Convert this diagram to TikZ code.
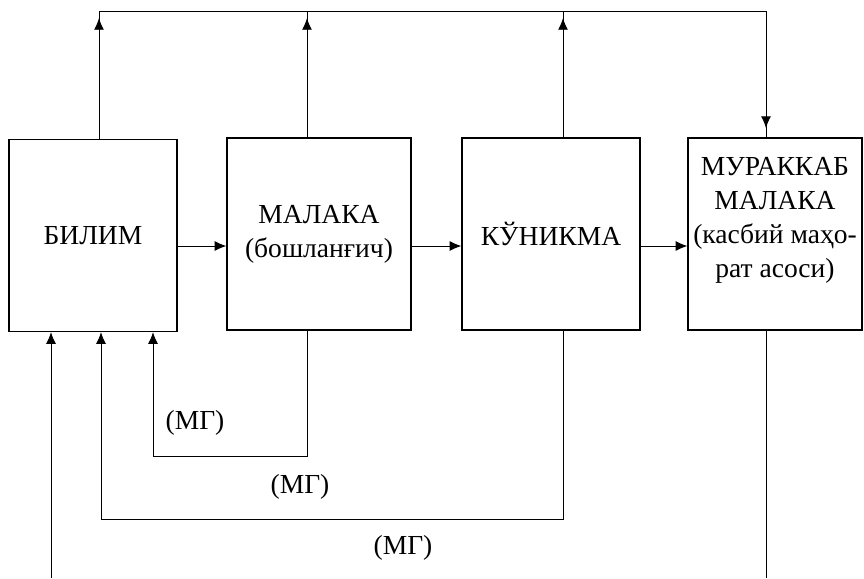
\documentclass[tikz,border=0pt]{standalone}
\usepackage{fontspec}
\setmainfont{Liberation Serif}
\newfontfamily\boxfont{Liberation Serif}
\usetikzlibrary{arrows.meta,decorations.markings}

\begin{document}
\begin{tikzpicture}[x=0.03cm,y=-0.03cm,line width=0.8pt,>={Latex[length=10pt,width=8.5pt]},
	boxnode/.style={rectangle,draw,line width=1pt,align=center,inner sep=0pt,minimum height=5.76cm,font=\boxfont\fontsize{23.5}{29}\selectfont},
	labelnode/.style={rectangle,inner sep=1pt,font=\boxfont\fontsize{23.5}{29}\selectfont},
	midtip/.style={postaction={decorate},decoration={markings,mark=at position #1 with {\arrow{Latex[length=10pt,width=8.5pt]}}}}]
	
	\useasboundingbox (0,0) rectangle (864,578);
	
	\node [boxnode,minimum width=5.04cm] (bilim) at (93,235.5) {БИЛИМ};
	\node [boxnode,minimum width=5.52cm] (malaka) at (319,234) {МАЛАКА\\(бошланғич)};
	\node [boxnode,minimum width=5.34cm] (kunikma) at (551,234) {КЎНИКМА};
	\node [boxnode,minimum width=5.22cm] (murakkab) at (775,234) {МУРАККАБ\\МАЛАКА\\(касбий маҳо-\\рат асоси)\\\mbox{}};
	
	\coordinate (top1) at (99,11);
	\coordinate (top2) at (307,11);
	\coordinate (top3) at (563,11);
	\coordinate (top4) at (766,11);
	\coordinate (flow) at (0,246);
	\coordinate (fb1a) at (307,456);
	\coordinate (fb1b) at (153,456);
	\coordinate (fb2a) at (563,519);
	\coordinate (fb2b) at (101,519);
	\coordinate (fb3) at (51,578);
	\coordinate (out) at (766,578);
	
	\node [labelnode] (mg1) at (195,423) {(МГ)};
	\node [labelnode] (mg2) at (300,487) {(МГ)};
	\node [labelnode] (mg3) at (403,548) {(МГ)};
	
	% upper line
	\draw[midtip=-6pt] (bilim.north -| top1) -- (top1);
	\draw[midtip=-6pt] (malaka.north -| top2) -- (top2);
	\draw[midtip=-6pt] (kunikma.north -| top3) -- (top3);
	\draw (top1) -- (top4);
	\draw[midtip=-8pt] (top4) -- (murakkab.north -| top4);
	
	\draw[->] (bilim.east |- flow) -- (malaka.west |- flow);
	\draw[->] (malaka.east |- flow) -- (kunikma.west |- flow);
	\draw[->] (kunikma.east |- flow) -- (murakkab.west |- flow);
	
	% feedback
	\draw[->] (malaka.south -| fb1a) -- (fb1a) -- (fb1b) -- (bilim.south -| fb1b);
	\draw[->] (kunikma.south -| fb2a) -- (fb2a) -- (fb2b) -- (bilim.south -| fb2b);
	\draw[->] (fb3) -- (bilim.south -| fb3);
	\draw (murakkab.south -| out) -- (out);
\end{tikzpicture}
\end{document}
